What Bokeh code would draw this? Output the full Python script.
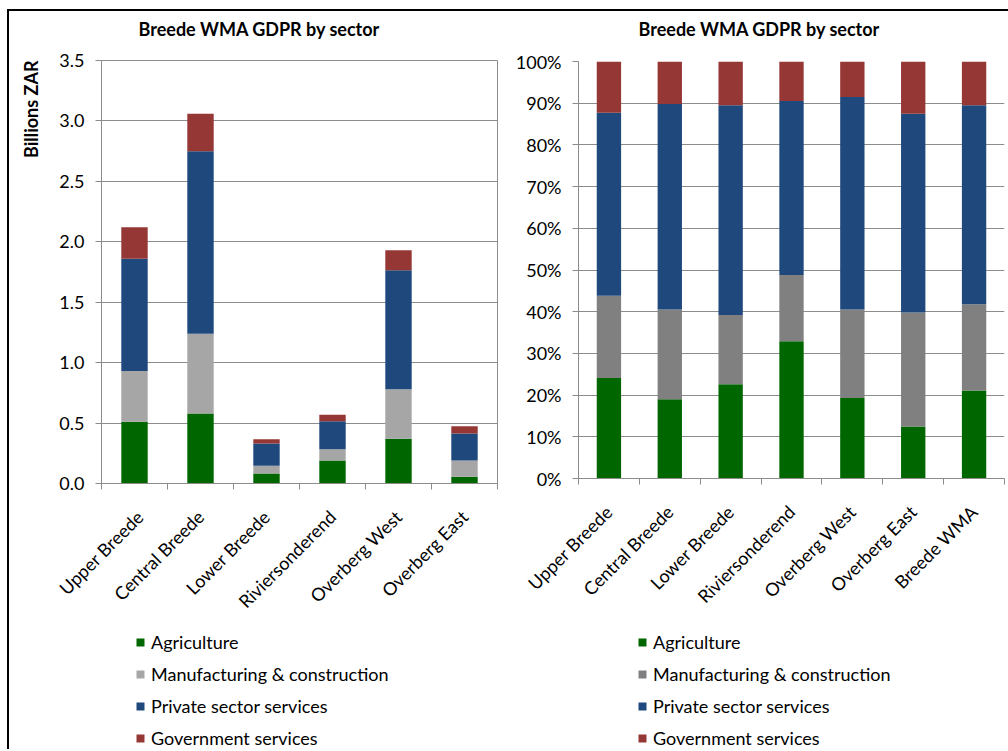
from math import pi

from bokeh.embed import file_html
from bokeh.layouts import column, row
from bokeh.models import (ColumnDataSource, CustomJSTickFormatter, FixedTicker, Label,
                          Legend, LegendItem, PrintfTickFormatter, Range1d)
from bokeh.plotting import figure
from bokeh.resources import INLINE

# ---- data -------------------------------------------------------------------
regions = ["Upper Breede", "Central Breede", "Lower Breede", "Riviersonderend",
           "Overberg West", "Overberg East"]
regions_with_total = regions + ["Breede WMA"]
sectors = ["Agriculture", "Manufacturing & construction",
           "Private sector services", "Government services"]

# GDPR per sector, billions of rand
agriculture = [0.51, 0.58, 0.083, 0.19, 0.37, 0.055]
manufacturing = [0.42, 0.66, 0.063, 0.094, 0.41, 0.135]
private_services = [0.93, 1.51, 0.184, 0.232, 0.985, 0.224]
government = [0.26, 0.31, 0.037, 0.052, 0.165, 0.06]

# share of each region's GDPR per sector, percent
agriculture_pct = [24.1, 19.0, 22.6, 32.9, 19.3, 12.5, 21.1]
manufacturing_pct = [19.7, 21.5, 16.6, 15.9, 21.2, 27.3, 20.7]
private_services_pct = [43.9, 49.3, 50.3, 41.7, 51.0, 47.7, 47.7]
government_pct = [12.3, 10.2, 10.5, 9.5, 8.5, 12.5, 10.5]

billion_ticks = [0.0, 0.5, 1.0, 1.5, 2.0, 2.5, 3.0, 3.5]
percent_ticks = [0, 10, 20, 30, 40, 50, 60, 70, 80, 90, 100]

TITLE = "Breede WMA GDPR by sector"
Y_LABEL = "Billions ZAR"

# ---- styling ----------------------------------------------------------------
GREEN = "#006600"
LIGHT_GREY = "#a6a6a6"
DARK_GREY = "#808080"
BLUE = "#1f497d"
RED = "#953735"
RULE = "#8c8c8c"
FONT = "Lato"
TEXT_SIZE = "18px"
KEYS = ["agri", "manu", "priv", "govt"]

HEADER_HEIGHT = 34
CHART_HEIGHT = 580
LEGEND_HEIGHT = 124
CAPTION_WIDTH = 45
LEFT_WIDTH = 500
RIGHT_WIDTH = 499


def blank_figure(width, height):
    f = figure(width=width, height=height, title=None,
               x_range=Range1d(0, 1), y_range=Range1d(0, 1),
               x_axis_type=None, y_axis_type=None,
               output_backend="svg", toolbar_location=None, min_border=0,
               background_fill_color="white", border_fill_color="white")
    f.frame_align = False
    f.outline_line_color = None
    f.grid.visible = False
    return f


def header(width, text, center_x):
    f = blank_figure(width, HEADER_HEIGHT)
    f.add_layout(Label(x=center_x, y=17, x_units="screen", y_units="screen",
                       text=text, text_align="center", text_baseline="middle",
                       text_font=FONT, text_font_style="bold",
                       text_font_size=TEXT_SIZE, text_color="black"))
    return f


def axis_caption(text, border_top):
    # rotated unit caption, its end level with the top of the value axis
    f = blank_figure(CAPTION_WIDTH, CHART_HEIGHT)
    f.add_layout(Label(x=21, y=CHART_HEIGHT - border_top, x_units="screen",
                       y_units="screen", angle=pi / 2, text=text,
                       text_align="right", text_baseline="middle",
                       text_font=FONT, text_font_style="bold",
                       text_font_size=TEXT_SIZE, text_color="black"))
    return f


def stacked_chart(source, n, colors, y_max, y_ticks, y_format, tick_names, *,
                  width, border_left, border_right, border_top,
                  frame_height, outline):
    p = figure(width=width, height=CHART_HEIGHT, title=None,
               x_range=Range1d(0, n), y_range=Range1d(0, y_max),
               output_backend="svg", toolbar_location=None,
               min_border_left=border_left, min_border_right=border_right,
               min_border_top=border_top,
               min_border_bottom=CHART_HEIGHT - border_top - frame_height,
               background_fill_color="white", border_fill_color="white")
    p.frame_align = False
    p.outline_line_color = RULE if outline else None

    p.vbar_stack(KEYS, x="pos", width=0.4, color=colors,
                 line_color=None, source=source)

    # grid and axes
    p.xgrid.visible = False
    p.ygrid.ticker = FixedTicker(ticks=y_ticks)
    p.ygrid.grid_line_color = RULE

    ya = p.yaxis[0]
    ya.ticker = FixedTicker(ticks=y_ticks)
    ya.formatter = PrintfTickFormatter(format=y_format)
    ya.axis_line_color = RULE
    ya.major_tick_line_color = RULE
    ya.major_tick_in = 0
    ya.major_tick_out = 6
    ya.minor_tick_line_color = None
    ya.major_label_standoff = 11
    ya.major_label_text_font = FONT
    ya.major_label_text_font_size = TEXT_SIZE
    ya.major_label_text_color = "black"

    xa = p.xaxis[0]
    xa.ticker = FixedTicker(ticks=[i + 0.5 for i in range(n)],
                            minor_ticks=list(range(n + 1)))
    xa.formatter = CustomJSTickFormatter(args=dict(names=tick_names),
                                         code="return names[Math.floor(tick)]")
    xa.axis_line_color = RULE
    xa.major_tick_line_color = None
    xa.major_tick_in = 0
    xa.major_tick_out = 6
    xa.minor_tick_line_color = RULE
    xa.minor_tick_in = 0
    xa.minor_tick_out = 6
    xa.major_label_orientation = pi / 4
    xa.major_label_standoff = 24
    xa.major_label_text_font = FONT
    xa.major_label_text_font_size = TEXT_SIZE
    xa.major_label_text_color = "black"
    return p


def sector_legend(source, colors, width, glyph_x):
    # colour key set underneath its chart; the stacks here are hidden and
    # only lend their fill colours to the legend entries
    f = blank_figure(width, LEGEND_HEIGHT)
    keys = f.vbar_stack(KEYS, x="pos", width=0.4, color=colors,
                        line_color=None, source=source)
    for r in keys:
        r.visible = False
    f.add_layout(Legend(items=[LegendItem(label=s, renderers=[r])
                               for s, r in zip(sectors, keys)],
                        location=(glyph_x, 0), orientation="vertical",
                        border_line_color=None, background_fill_alpha=0,
                        inactive_fill_alpha=0,
                        padding=0, margin=0, spacing=10, label_height=21,
                        glyph_height=10, glyph_width=10, label_standoff=6,
                        label_text_font=FONT, label_text_font_size=TEXT_SIZE,
                        label_text_color="black"))
    return f


def make_source(n, series):
    data = {"pos": [i + 0.5 for i in range(n)]}
    data.update(dict(zip(KEYS, series)))
    return ColumnDataSource(data)


left_colors = [GREEN, LIGHT_GREY, BLUE, RED]
right_colors = [GREEN, DARK_GREY, BLUE, RED]

left_source = make_source(len(regions),
                          [agriculture, manufacturing, private_services, government])
right_source = make_source(len(regions_with_total),
                           [agriculture_pct, manufacturing_pct,
                            private_services_pct, government_pct])

left = stacked_chart(left_source, len(regions), left_colors, 3.5, billion_ticks,
                     "%.1f", regions, width=LEFT_WIDTH - CAPTION_WIDTH,
                     border_left=92 - CAPTION_WIDTH, border_right=12,
                     border_top=15, frame_height=423, outline=True)

right = stacked_chart(right_source, len(regions_with_total), right_colors, 100,
                      percent_ticks, "%d%%", regions_with_total, width=RIGHT_WIDTH,
                      border_left=69, border_right=RIGHT_WIDTH - 69 - 426,
                      border_top=16, frame_height=417, outline=False)

page = row(column(header(LEFT_WIDTH, TITLE, 250),
                  row(axis_caption(Y_LABEL, 15), left),
                  sector_legend(left_source, left_colors, LEFT_WIDTH, 126)),
           column(header(RIGHT_WIDTH, TITLE, 250), right,
                  sector_legend(right_source, right_colors, RIGHT_WIDTH, 128)),
           margin=(9, 0, 0, 7),
           styles={"border-top": "2px solid black", "border-left": "2px solid black",
                   "border-right": "none", "border-bottom": "none",
                   "outline": "none", "box-shadow": "none"})

with open("out.html", "w") as f:
    f.write(file_html(page, INLINE))
